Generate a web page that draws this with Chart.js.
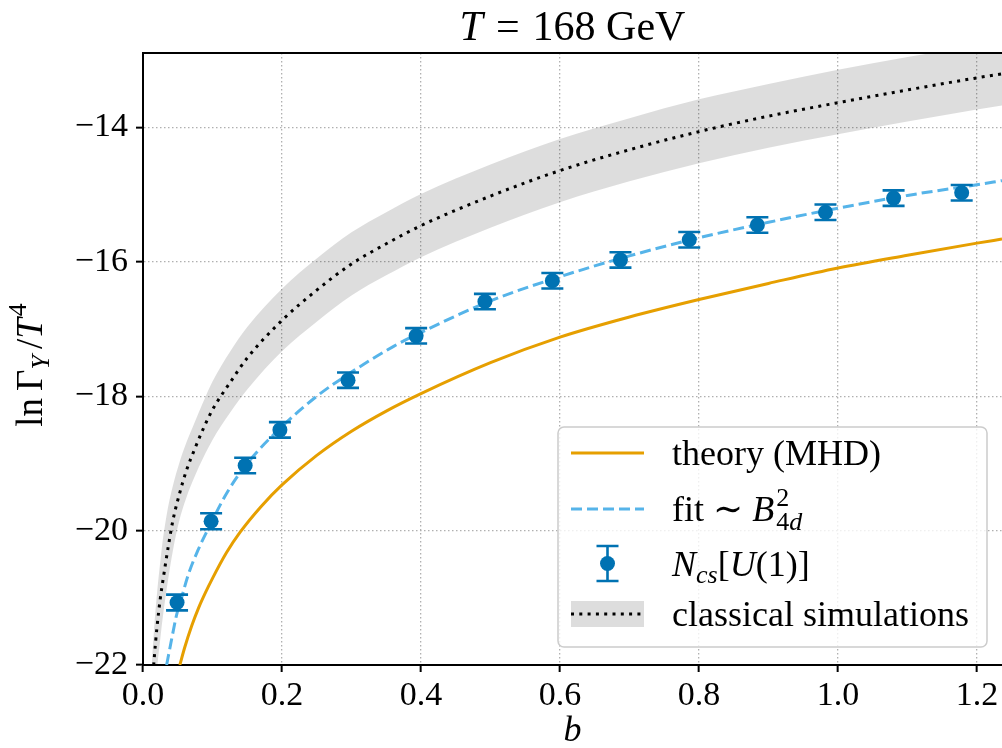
<!DOCTYPE html>
<html>
<head>
<meta charset="utf-8">
<script src="https://cdn.jsdelivr.net/npm/chart.js@4.4.1/dist/chart.umd.min.js"></script>
<style>
  html, body { margin: 0; padding: 0; background: #fff; }
  canvas { display: block; }
</style>
</head>
<body>
<canvas id="myChart" width="1002" height="748"></canvas>
<script>
// N_cs[U(1)] measurements with error bars
const bValues = [0.049, 0.098, 0.147, 0.197, 0.295, 0.393, 0.492, 0.589, 0.687, 0.786, 0.884, 0.982, 1.080, 1.178]
const ncsValues = [-21.07, -19.86, -19.03, -18.50, -17.76, -17.10, -16.59, -16.28, -15.97, -15.67, -15.45, -15.26, -15.05, -14.97]
const ncsErrors = [0.117, 0.12, 0.115, 0.115, 0.115, 0.115, 0.115, 0.115, 0.115, 0.115, 0.115, 0.115, 0.115, 0.115]

// fit ~ B_4d^2
const fitB = [0.034, 0.04, 0.048, 0.056, 0.065, 0.08, 0.094, 0.12, 0.15, 0.2, 0.25, 0.3, 0.36, 0.4, 0.5, 0.6, 0.7, 0.8, 0.9, 1.0, 1.1, 1.2, 1.236]
const fitValues = [-22.0, -21.68, -21.27, -20.98, -20.66, -20.27, -19.97, -19.45, -19.0, -18.45, -18.0, -17.64, -17.26, -17.05, -16.58, -16.22, -15.91, -15.64, -15.41, -15.2, -15.01, -14.85, -14.79]

// theory (MHD)
const theoryB = [0.053, 0.06, 0.07, 0.08, 0.09, 0.1, 0.12, 0.14, 0.17, 0.2, 0.25, 0.3, 0.35, 0.4, 0.5, 0.6, 0.7, 0.8, 0.9, 1.0, 1.1, 1.2, 1.236]
const theoryValues = [-22.0, -21.74, -21.42, -21.15, -20.92, -20.71, -20.33, -20.02, -19.64, -19.32, -18.88, -18.52, -18.22, -17.96, -17.5, -17.12, -16.82, -16.56, -16.32, -16.09, -15.9, -15.72, -15.66]

// classical simulations: central line and band
const bandB = [0.012, 0.016, 0.02, 0.025, 0.029, 0.036, 0.043, 0.052, 0.062, 0.075, 0.086, 0.1, 0.125, 0.15, 0.2, 0.25, 0.3, 0.35, 0.4, 0.5, 0.6, 0.7, 0.8, 0.9, 1.0, 1.1, 1.2, 1.236]
const classicalValues = [-22.5, -21.92, -21.45, -21.0, -20.72, -20.26, -19.85, -19.47, -19.12, -18.77, -18.5, -18.2, -17.8, -17.43, -16.87, -16.42, -16.03, -15.73, -15.46, -15.02, -14.64, -14.33, -14.06, -13.83, -13.63, -13.44, -13.26, -13.2]
const bandHigh = [-22.1, -21.45, -20.95, -20.45, -20.1, -19.65, -19.33, -19.0, -18.7, -18.37, -18.1, -17.78, -17.34, -16.97, -16.4, -15.95, -15.56, -15.26, -14.99, -14.55, -14.17, -13.86, -13.58, -13.35, -13.14, -12.95, -12.78, -12.72]
const bandLow = [-23.1, -22.55, -22.08, -21.6, -21.25, -20.74, -20.3, -19.86, -19.52, -19.18, -18.93, -18.65, -18.25, -17.9, -17.33, -16.89, -16.5, -16.2, -15.93, -15.49, -15.11, -14.8, -14.53, -14.3, -14.1, -13.91, -13.73, -13.67]

const legendLabels = ["theory (MHD)", "fit", "N", "classical simulations"]

const serif = "'Liberation Serif', 'DejaVu Serif', serif"
const blue = "#0072B2"
const lightBlue = "#56B4E9"
const orange = "#E69F00"
const bandColor = "rgba(0, 0, 0, 0.135)"

const toPoints = (xs, ys) => xs.map((x, i) => ({ x: x, y: ys[i] }))

// draws a list of pieces {t, s (style), z (size), dy, stay, gap}, returns width
const drawParts = (ctx, parts, x, y, measureOnly) => {
  let cx = x
  parts.forEach((p) => {
    if (p.gap) {
      cx += p.gap
      return
    }
    ctx.font = `${p.s || "normal"} ${p.z}px ${serif}`
    if (!measureOnly) ctx.fillText(p.t, cx, y + (p.dy || 0))
    if (!p.stay) cx += ctx.measureText(p.t).width
  })
  return cx - x
}

const errorBars = {
  id: "errorBars",
  beforeDatasetDraw(chart, args) {
    if (args.index !== 0) return
    const { ctx, scales } = chart
    ctx.save()
    ctx.strokeStyle = blue
    ctx.lineWidth = 2.6
    bValues.forEach((b, i) => {
      const x = scales.x.getPixelForValue(b)
      const y1 = scales.y.getPixelForValue(ncsValues[i] + ncsErrors[i])
      const y2 = scales.y.getPixelForValue(ncsValues[i] - ncsErrors[i])
      ctx.beginPath()
      ctx.moveTo(x, y1)
      ctx.lineTo(x, y2)
      ctx.moveTo(x - 11, y1)
      ctx.lineTo(x + 11, y1)
      ctx.moveTo(x - 11, y2)
      ctx.lineTo(x + 11, y2)
      ctx.stroke()
    })
    ctx.restore()
  },
}

const decorations = {
  id: "decorations",
  afterDraw(chart) {
    const { ctx, chartArea } = chart
    ctx.save()
    // top spine
    ctx.strokeStyle = "#000"
    ctx.lineWidth = 2
    ctx.beginPath()
    ctx.moveTo(chartArea.left - 1, chartArea.top)
    ctx.lineTo(chartArea.right, chartArea.top)
    ctx.stroke()

    ctx.fillStyle = "#000"
    ctx.textBaseline = "alphabetic"
    ctx.textAlign = "left"

    // title
    const title = [{ t: "T", s: "italic", z: 42 }, { gap: 13 }, { t: "=", z: 42 }, { gap: 13 }, { t: "168 GeV", z: 42 }]
    const cx = (chartArea.left + chartArea.right) / 2
    const tw = drawParts(ctx, title, 0, 0, true)
    drawParts(ctx, title, cx - tw / 2, 40)

    // x label
    const xl = [{ t: "b", s: "italic", z: 36 }]
    const xw = drawParts(ctx, xl, 0, 0, true)
    drawParts(ctx, xl, cx - xw / 2, 741)

    // y label
    const yl = [
      { t: "ln", z: 37 }, { gap: 7 }, { t: "Γ", z: 37 },
      { t: "Y", s: "italic", z: 26, dy: 7 }, { gap: 6 },
      { t: "/", z: 37 }, { t: "T", s: "italic", z: 37 }, { gap: 2 }, { t: "4", z: 26, dy: -16 },
    ]
    const yw = drawParts(ctx, yl, 0, 0, true)
    ctx.save()
    ctx.translate(42, 365)
    ctx.rotate(-Math.PI / 2)
    drawParts(ctx, yl, -yw / 2, 0)
    ctx.restore()

    // legend box
    const bx = 558, by = 427, bw = 429, bh = 220, r = 6
    ctx.beginPath()
    ctx.moveTo(bx + r, by)
    ctx.arcTo(bx + bw, by, bx + bw, by + bh, r)
    ctx.arcTo(bx + bw, by + bh, bx, by + bh, r)
    ctx.arcTo(bx, by + bh, bx, by, r)
    ctx.arcTo(bx, by, bx + bw, by, r)
    ctx.closePath()
    ctx.fillStyle = "rgba(255, 255, 255, 0.8)"
    ctx.fill()
    ctx.strokeStyle = "#cccccc"
    ctx.lineWidth = 1.5
    ctx.stroke()

    const rows = [453, 509, 563.5, 614]
    const hx1 = 571, hx2 = 644, tx = 672

    ctx.lineWidth = 3
    ctx.strokeStyle = orange
    ctx.beginPath()
    ctx.moveTo(hx1, rows[0])
    ctx.lineTo(hx2, rows[0])
    ctx.stroke()

    ctx.strokeStyle = lightBlue
    ctx.setLineDash([11, 5])
    ctx.beginPath()
    ctx.moveTo(hx1, rows[1])
    ctx.lineTo(hx2, rows[1])
    ctx.stroke()
    ctx.setLineDash([])

    const ex = (hx1 + hx2) / 2
    ctx.strokeStyle = blue
    ctx.lineWidth = 2.6
    ctx.beginPath()
    ctx.moveTo(ex, rows[2] - 17.5)
    ctx.lineTo(ex, rows[2] + 17.5)
    ctx.moveTo(ex - 11, rows[2] - 17.5)
    ctx.lineTo(ex + 11, rows[2] - 17.5)
    ctx.moveTo(ex - 11, rows[2] + 17.5)
    ctx.lineTo(ex + 11, rows[2] + 17.5)
    ctx.stroke()
    ctx.fillStyle = blue
    ctx.beginPath()
    ctx.arc(ex, rows[2], 7.5, 0, Math.PI * 2)
    ctx.fill()

    ctx.fillStyle = bandColor
    ctx.fillRect(hx1, rows[3] - 13, hx2 - hx1, 26)
    ctx.strokeStyle = "#000"
    ctx.lineWidth = 3
    ctx.setLineDash([3, 5.3])
    ctx.beginPath()
    ctx.moveTo(hx1, rows[3])
    ctx.lineTo(hx2, rows[3])
    ctx.stroke()
    ctx.setLineDash([])

    ctx.fillStyle = "#000"
    const labelParts = [
      [{ t: legendLabels[0], z: 36 }],
      [{ t: legendLabels[1], z: 36 }, { gap: 9 }, { t: "∼", z: 36 }, { gap: 9 }, { t: "B", s: "italic", z: 36 },
        { gap: 2 }, { t: "2", z: 26, dy: -15, stay: true }, { t: "4", z: 26, dy: 9 }, { t: "d", s: "italic", z: 26, dy: 9 }],
      [{ t: legendLabels[2], s: "italic", z: 36 }, { t: "cs", s: "italic", z: 26, dy: 7 }, { t: "[", z: 36 },
        { t: "U", s: "italic", z: 36 }, { t: "(1)]", z: 36 }],
      [{ t: legendLabels[3], z: 36 }],
    ]
    labelParts.forEach((parts, i) => drawParts(ctx, parts, tx, rows[i] + 12))
    ctx.restore()
  },
}

const ctx = document.getElementById("myChart").getContext("2d")

new Chart(ctx, {
  type: "line",
  data: {
    datasets: [
      {
        label: "ncs",
        data: toPoints(bValues, ncsValues),
        showLine: false,
        pointRadius: 7.5,
        pointBackgroundColor: blue,
        pointBorderWidth: 0,
      },
      {
        label: "fit",
        data: toPoints(fitB, fitValues),
        borderColor: lightBlue,
        borderWidth: 3,
        borderDash: [11, 5],
        pointRadius: 0,
        cubicInterpolationMode: "monotone",
        fill: false,
      },
      {
        label: "theory",
        data: toPoints(theoryB, theoryValues),
        borderColor: orange,
        borderWidth: 3,
        pointRadius: 0,
        cubicInterpolationMode: "monotone",
        fill: false,
      },
      {
        label: "classical",
        data: toPoints(bandB, classicalValues),
        borderColor: "#000",
        borderWidth: 3,
        borderDash: [3, 5.3],
        borderCapStyle: "butt",
        pointRadius: 0,
        cubicInterpolationMode: "monotone",
        fill: false,
      },
      {
        label: "band high",
        data: toPoints(bandB, bandHigh),
        borderColor: "rgba(0,0,0,0)",
        backgroundColor: bandColor,
        pointRadius: 0,
        cubicInterpolationMode: "monotone",
        fill: { target: 5 },
      },
      {
        label: "band low",
        data: toPoints(bandB, bandLow),
        borderColor: "rgba(0,0,0,0)",
        pointRadius: 0,
        cubicInterpolationMode: "monotone",
        fill: false,
      },
    ],
  },
  options: {
    responsive: false,
    animation: false,
    devicePixelRatio: 1,
    events: [],
    layout: { autoPadding: false, padding: { top: 53, left: 0, right: 0, bottom: 0 } },
    plugins: {
      legend: { display: false },
      tooltip: { enabled: false },
      title: { display: false },
    },
    scales: {
      x: {
        type: "linear",
        min: 0,
        max: 1.236,
        afterFit: (scale) => {
          scale.height = 83
          scale.paddingLeft = 0
          scale.paddingRight = 0
        },
        ticks: {
          stepSize: 0.2,
          includeBounds: false,
          autoSkip: false,
          maxRotation: 0,
          padding: 4,
          color: "#000",
          font: { family: serif, size: 34 },
          callback: (v) => v.toFixed(1),
        },
        grid: { color: "#b0b0b0", lineWidth: 1.3, tickLength: 7, tickColor: "#000", tickWidth: 2 },
        border: { color: "#000", width: 2, dash: [1.5, 2.5] },
      },
      y: {
        min: -22,
        max: -12.89,
        afterFit: (scale) => {
          scale.width = 143
          scale.paddingTop = 0
          scale.paddingBottom = 0
        },
        ticks: {
          stepSize: 2,
          includeBounds: false,
          padding: 8,
          color: "#000",
          font: { family: serif, size: 34 },
          callback: (v) => "\u2212" + Math.abs(v),
        },
        grid: { color: "#b0b0b0", lineWidth: 1.3, tickLength: 7, tickColor: "#000", tickWidth: 2 },
        border: { color: "#000", width: 2, dash: [1.5, 2.5] },
      },
    },
  },
  plugins: [errorBars, decorations],
})
</script>
</body>
</html>
